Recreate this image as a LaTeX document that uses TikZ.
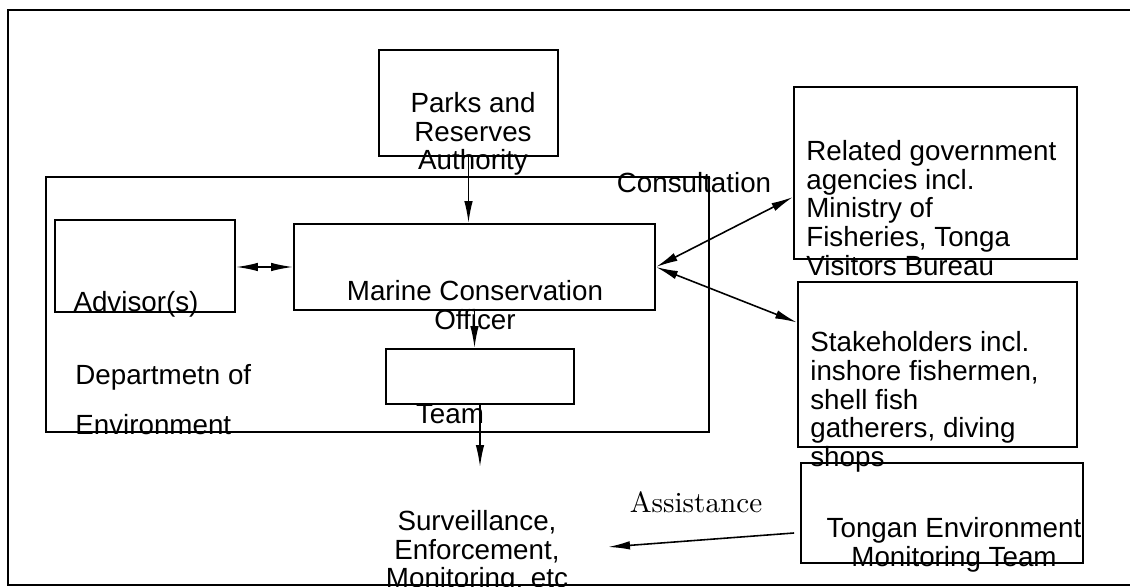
\documentclass[tikz,border=0pt]{standalone}
\usepackage{fontspec}
\newfontfamily\arialfont{Liberation Sans}
\newfontfamily\lmten{lmroman10-regular.otf}
\usetikzlibrary{arrows.meta,calc}

\tikzset{
  box/.style 2 args={draw, line width=1.1pt, inner sep=0pt,
    minimum width=#1*0.02cm, minimum height=#2*0.02cm},
  txt/.style={font=\arialfont\fontsize{15.8}{16.3}\selectfont, inner sep=0pt},
  link/.style={line width=0.9pt, -{Latex[length=4.4mm,width=1.7mm]}},
  twoway/.style={line width=0.9pt, {Latex[length=4.4mm,width=1.7mm]}-{Latex[length=4.4mm,width=1.7mm]}},
}

\begin{document}
\begin{tikzpicture}[x=0.02cm, y=-0.02cm]
  \useasboundingbox (0,0) rectangle (1130,587);
  % Page frame, open on the right.
  \draw[line width=0.7pt] (1130,10) -- (8,10) -- (8,585) -- (1130,585);
  % Department of Environment: thin outline round the inner boxes.
  \node[box={663}{255}, line width=0.6pt] (dept) at (377.5,304.5) {};
  % Boxes; their texts are set apart and may run over the edges.
  \node[box={179}{106}] (parks) at (468.5,103) {};
  \node[box={180}{92}] (adv) at (145,266) {};
  \node[box={361}{86}] (mco) at (474.5,267) {};
  \node[box={188}{55}] (team) at (480,376.5) {};
  \node[box={283}{172}] (gov) at (935.5,173) {};
  \node[box={279}{165}] (stake) at (937.5,364.5) {};
  \node[box={282}{100}] (temt) at (942,513) {};
  % Texts.
  \node[txt, align=center] (parkstxt) at (473,134) {Parks and\\Reserves\\Authority};
  \node[txt] (consult) at (694,183) {Consultation};
  \node[txt, align=left, anchor=west] (govtxt) at (806,208)
    {Related government\\agencies incl.\\Ministry of\\Fisheries, Tonga\\Visitors Bureau};
  \node[txt] (advtxt) at (136,304) {Advisor(s)};
  \node[txt, align=center] (mcotxt) at (475,305) {Marine Conservation\\Officer};
  \node[txt, align=left, anchor=west] (staketxt) at (810,402)
    {Stakeholders incl.\\inshore fishermen,\\shell fish\\gatherers, diving\\shops};
  \node[txt, anchor=west] (dept1) at (75,377) {Departmetn of};
  \node[txt, anchor=west] (dept2) at (75,425) {Environment};
  \node[txt] (teamtxt) at (450,414) {Team};
  \node[txt, align=center] (surv) at (477,552) {Surveillance,\\Enforcement,\\Monitoring, etc};
  \node[font=\lmten\fontsize{16.6}{19}\selectfont, inner sep=0pt] (assist) at (696,502) {Assistance};
  \node[txt, align=center] (temttxt) at (954,545) {Tongan Environment\\Monitoring Team};
  % Free ends of the arrows towards the surveillance work.
  \coordinate (survtop) at (480,467);
  \coordinate (survright) at (608,547);
  % Connectors.
  \draw[link] (parks.south) -- (parks.south |- mco.north);
  \draw[twoway] (mco.west -| adv.east) -- (mco.west);
  \draw[twoway] (mco.east) -- ($(gov.west)+(0,24)$);
  \draw[twoway] (mco.east) -- ($(stake.west)+(0,-42)$);
  \draw[link] (mco.south) -- (mco.south |- team.north);
  \draw[link] (team.south) -- (survtop);
  \draw[link] ($(temt.west)+(-6,20)$) -- (survright);
\end{tikzpicture}
\end{document}
